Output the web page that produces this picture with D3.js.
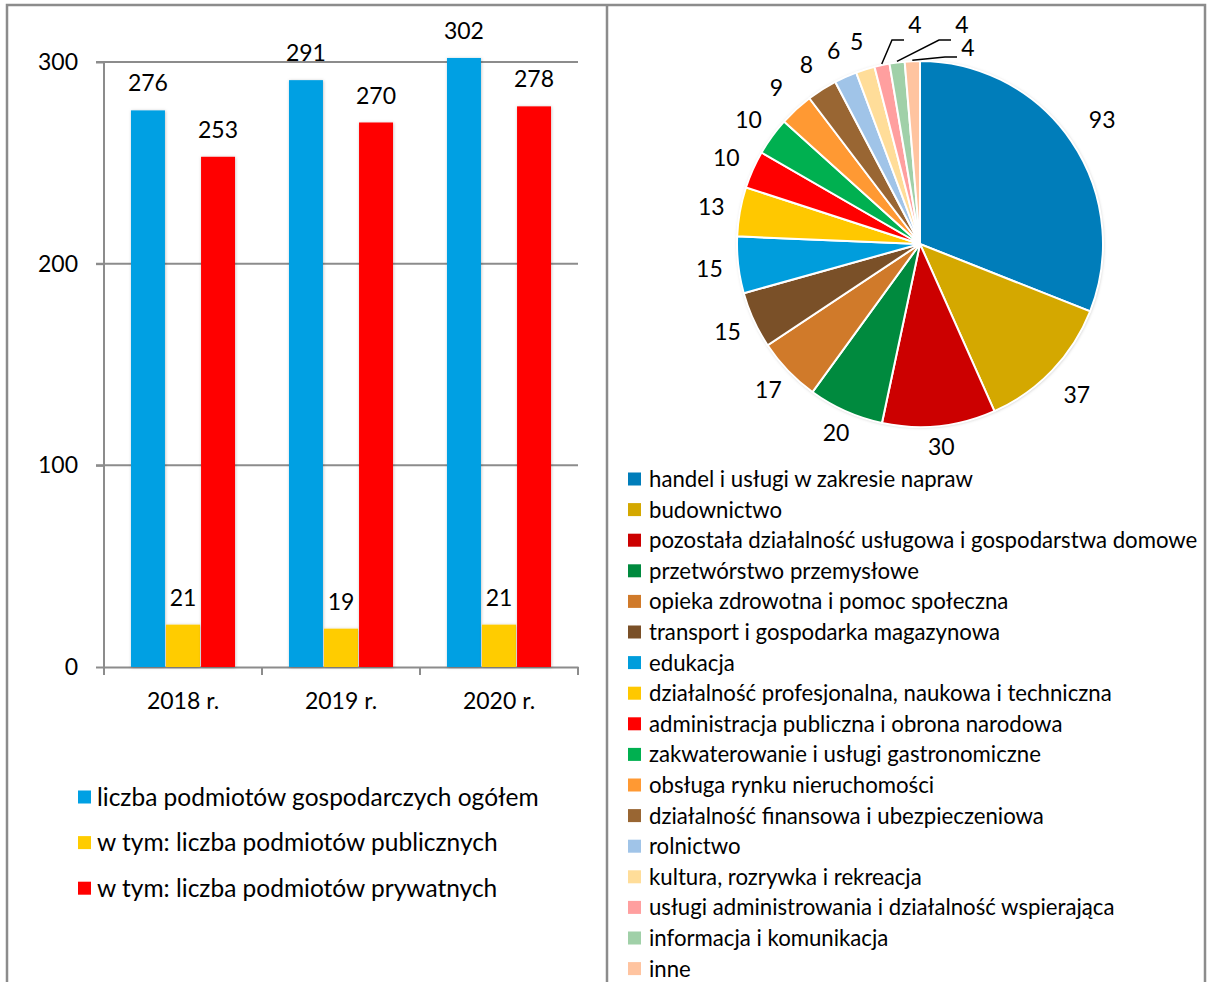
<!DOCTYPE html>
<html>
<head>
<meta charset="utf-8">
<script src="https://cdn.jsdelivr.net/npm/d3@7"></script>
<style>
  body { margin: 0; background: #fff; }
  svg { display: block; }
  text { font-family: Lato, "Open Sans", sans-serif; fill: #000; }
</style>
</head>
<body>
<svg id="chart" width="1207" height="982"></svg>
<script>
// bar chart data
const years = ['2018 r.', '2019 r.', '2020 r.'];
const seriesNames = [
  'liczba podmiotów gospodarczych ogółem',
  'w tym: liczba podmiotów publicznych',
  'w tym: liczba podmiotów prywatnych'
];
const totalFirms = [276, 291, 302];
const publicFirms = [21, 19, 21];
const privateFirms = [253, 270, 278];
const yTicks = [0, 100, 200, 300];

// pie chart data
const sectors = [
  'handel i usługi w zakresie napraw',
  'budownictwo',
  'pozostała działalność usługowa i gospodarstwa domowe',
  'przetwórstwo przemysłowe',
  'opieka zdrowotna i pomoc społeczna',
  'transport i gospodarka magazynowa',
  'edukacja',
  'działalność profesjonalna, naukowa i techniczna',
  'administracja publiczna i obrona narodowa',
  'zakwaterowanie i usługi gastronomiczne',
  'obsługa rynku nieruchomości',
  'działalność finansowa i ubezpieczeniowa',
  'rolnictwo',
  'kultura, rozrywka i rekreacja',
  'usługi administrowania i działalność wspierająca',
  'informacja i komunikacja',
  'inne'
];
const sectorCounts = [93, 37, 30, 20, 17, 15, 15, 13, 10, 10, 9, 8, 6, 5, 4, 4, 4];

const barColors = ['#00A0E3', '#FFCC00', '#FF0000'];
const pieColors = ['#007DBA', '#D4A800', '#CC0000', '#008A3E', '#D07A2A', '#7A5028',
  '#009DDC', '#FFC800', '#FF0000', '#00B050', '#FF9933', '#996633',
  '#A0C4E8', '#FFDD99', '#FF9F9F', '#A0D0A8', '#FFC4A0'];

const svg = d3.select('#chart');

const defs = svg.append('defs');
defs.append('filter').attr('id', 'shadow')
  .attr('x', '-20%').attr('y', '-20%').attr('width', '140%').attr('height', '140%')
  .append('feDropShadow')
  .attr('dx', 0.5).attr('dy', 0.5).attr('stdDeviation', 1.5)
  .attr('flood-color', '#000').attr('flood-opacity', 0.25);

// frame
svg.append('path')
  .attr('d', 'M7,982 V5 H1205 V982 M607,5 V982')
  .attr('fill', 'none').attr('stroke', '#8c8c8c').attr('stroke-width', 2.5);

// ---------- bar chart ----------
const yScale = d3.scaleLinear().domain([0, 300]).range([667, 62]);
const x0 = d3.scaleBand().domain(years).range([104, 578]);
const x1 = d3.scaleBand().domain(d3.range(3)).range([0, x0.bandwidth()])
  .paddingInner(0.03).paddingOuter(0.77);

const series = [totalFirms, publicFirms, privateFirms];

// gridlines
svg.append('g').selectAll('line')
  .data(yTicks.filter(t => t > 0))
  .enter().append('line')
  .attr('x1', 96).attr('x2', 578)
  .attr('y1', d => yScale(d)).attr('y2', d => yScale(d))
  .attr('stroke', '#8c8c8c').attr('stroke-width', 2);

const yAxis = d3.axisLeft(yScale).tickValues(yTicks).tickSize(8).tickPadding(18);
const yg = svg.append('g').attr('transform', 'translate(104,0)').call(yAxis);
yg.selectAll('line, path').attr('stroke', '#8c8c8c').attr('stroke-width', 2);
yg.select('.domain').attr('d', 'M0,667V62');
yg.selectAll('text').attr('font-size', 23).attr('font-family', 'Lato');

const xAxis = d3.axisBottom(x0).tickSize(0).tickPadding(26);
const xg = svg.append('g').attr('transform', 'translate(0,667)').call(xAxis);
xg.select('.domain').attr('stroke', '#8c8c8c').attr('stroke-width', 2);
xg.selectAll('text').attr('font-size', 23).attr('font-family', 'Lato');
xg.selectAll('.sep').data([104, ...years.map(y => x0(y) + x0.bandwidth())])
  .enter().append('line').attr('class', 'sep')
  .attr('x1', d => d).attr('x2', d => d).attr('y1', 0).attr('y2', 8)
  .attr('stroke', '#8c8c8c').attr('stroke-width', 2);

const groups = svg.append('g').selectAll('g')
  .data(years).enter().append('g')
  .attr('transform', d => `translate(${x0(d)},0)`);

groups.selectAll('rect')
  .data((d, i) => series.map((s, k) => ({ k, v: s[i] })))
  .enter().append('rect')
  .attr('x', d => x1(d.k))
  .attr('width', x1.bandwidth())
  .attr('y', d => yScale(d.v))
  .attr('height', d => yScale(0) - yScale(d.v))
  .attr('fill', d => barColors[d.k])
  .attr('filter', 'url(#shadow)');

groups.selectAll('text.val')
  .data((d, i) => series.map((s, k) => ({ k, v: s[i] })))
  .enter().append('text').attr('class', 'val')
  .attr('x', d => x1(d.k) + x1.bandwidth() / 2)
  .attr('y', d => yScale(d.v) - 19)
  .attr('text-anchor', 'middle')
  .attr('font-size', 23)
  .text(d => d.v);

// left legend
const leftLegend = svg.append('g').selectAll('g')
  .data(seriesNames).enter().append('g')
  .attr('transform', (d, i) => `translate(78,${797 + i * 45.6})`);
leftLegend.append('rect').attr('y', -6.5).attr('width', 13).attr('height', 13)
  .attr('fill', (d, i) => barColors[i]);
leftLegend.append('text').attr('x', 19).attr('dy', '0.36em')
  .attr('font-size', 24.5).text(d => d);

// ---------- pie chart ----------
const cx = 920, cy = 244, r = 183;
const pie = d3.pie().sort(null).value(d => d);
const arcs = pie(sectorCounts);
const arc = d3.arc().innerRadius(0).outerRadius(r);

const pieG = svg.append('g').attr('transform', `translate(${cx},${cy})`);
pieG.append('circle').attr('r', r).attr('fill', '#fff').attr('filter', 'url(#shadow)');
pieG.selectAll('path').data(arcs).enter().append('path')
  .attr('d', arc)
  .attr('fill', (d, i) => pieColors[i])
  .attr('stroke', '#fff').attr('stroke-width', 2);

const mid = d => (d.startAngle + d.endAngle) / 2;
// label distance: a bit further out on the right, closer in at the bottom
const labelR = a => 212 + 10 * Math.max(0, Math.sin(a))
  - 10 * Math.max(0, -Math.cos(a)) * (1 - Math.abs(Math.sin(a)));
pieG.selectAll('text.plain').data(arcs.slice(0, 14)).enter().append('text')
  .attr('class', 'plain')
  .attr('x', d => Math.sin(mid(d)) * labelR(mid(d)))
  .attr('y', d => -Math.cos(mid(d)) * labelR(mid(d)))
  .attr('dy', '0.36em')
  .attr('text-anchor', 'middle')
  .attr('font-size', 23)
  .text(d => d.data);

// small slices with leader lines (label offsets from pie centre)
const leaderOffsets = [[-5, -219], [42, -219], [48, -196]];
const leaderArcs = arcs.slice(14);
leaderArcs.forEach((d, j) => {
  const a = mid(d);
  const sx = Math.sin(a) * (r + 1), sy = -Math.cos(a) * (r + 1);
  const [lx, ly] = leaderOffsets[j];
  const ex = lx - 11, ey = j < 2 ? ly + 15 : ly + 9;
  const bx = ex - 12;
  pieG.append('polyline')
    .attr('points', `${sx},${sy} ${bx},${ey} ${ex},${ey}`)
    .attr('fill', 'none').attr('stroke', '#000').attr('stroke-width', 1.5);
  pieG.append('text').attr('x', lx).attr('y', ly).attr('dy', '0.36em')
    .attr('text-anchor', 'middle').attr('font-size', 23).text(d.data);
});

// right legend
const rightLegend = svg.append('g').selectAll('g')
  .data(sectors).enter().append('g')
  .attr('transform', (d, i) => `translate(628,${479 + i * 30.6})`);
rightLegend.append('rect').attr('y', -6.5).attr('width', 13).attr('height', 13)
  .attr('fill', (d, i) => pieColors[i]);
rightLegend.append('text').attr('x', 21).attr('dy', '0.36em')
  .attr('font-size', 22.2).text(d => d);
</script>
</body>
</html>
